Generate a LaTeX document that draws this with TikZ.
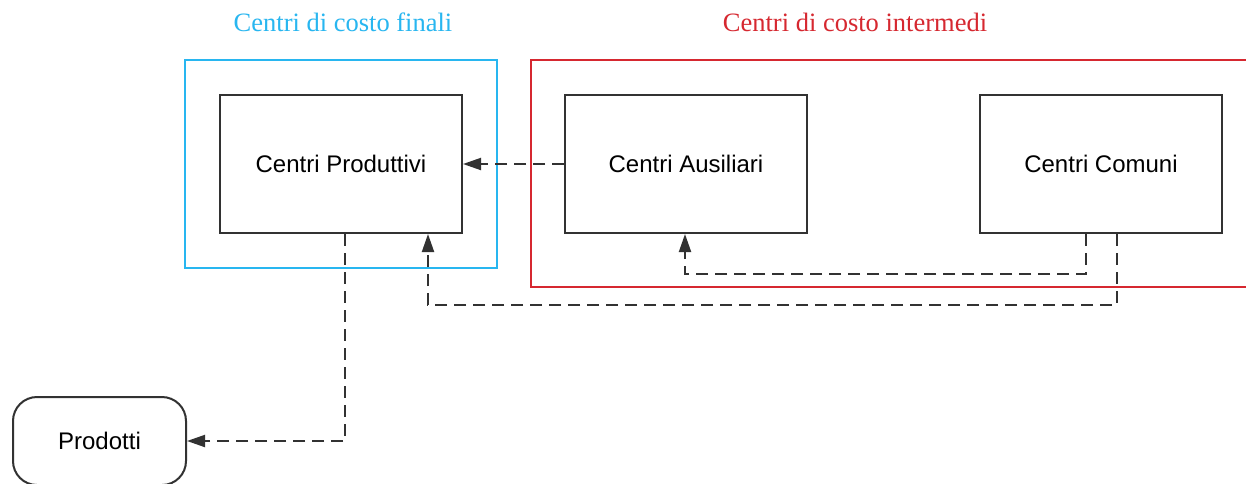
\documentclass[tikz,border=0pt]{standalone}
\usepackage{fontspec}
\setmainfont{Liberation Serif}
\setsansfont{Liberation Sans}
\usetikzlibrary{arrows.meta}
\definecolor{finalblue}{RGB}{40,182,240}
\definecolor{interred}{RGB}{214,40,48}
\definecolor{boxline}{RGB}{50,50,50}
\tikzset{
  centro/.style={draw=boxline, line width=2pt, fill=white, minimum width=242pt,
    minimum height=138pt, inner sep=0pt, font=\sffamily\fontsize{24}{28}\selectfont},
  uscita/.style={centro, rounded corners=24pt, minimum width=173pt, minimum height=88pt},
  gruppo/.style={line width=2pt},
  titolo/.style={font=\rmfamily\fontsize{26.5}{31}\selectfont, inner sep=0pt},
  conn/.style={draw=boxline, line width=2pt, dash pattern=on 12pt off 7pt,
    -{Triangle[length=18pt,width=12pt]}}
}
\begin{document}
\begin{tikzpicture}[x=1pt, y=-1pt]
  \useasboundingbox (0,0) rectangle (1246,483);
  \clip (0,0) rectangle (1246,483);
  \fill[white] (0,0) rectangle (1246,483);

  % group frames
  \draw[gruppo, draw=finalblue] (185,60) rectangle (497,268);
  \draw[gruppo, draw=interred] (531,60) rectangle (1270,287);
  \node[titolo, text=finalblue] (tfin) at (343,22) {Centri di costo finali};
  \node[titolo, text=interred] (tint) at (855,22) {Centri di costo intermedi};

  % cost centres
  \node[centro] (produttivi) at (341,164) {Centri Produttivi};
  \node[centro] (ausiliari) at (686,164) {Centri Ausiliari};
  \node[centro] (comuni) at (1101,164) {Centri Comuni};
  \node[uscita] (prodotti) at (99.5,441) {Prodotti};

  % cost flows
  \draw[conn] (ausiliari.west) -- (produttivi.east);
  \draw[conn] ([xshift=-15pt]comuni.south) -- ++(0,40) -| ([xshift=-1pt]ausiliari.south);
  \draw[conn] ([xshift=16pt]comuni.south) -- ++(0,71) -| ([xshift=87pt]produttivi.south);
  \draw[conn] ([xshift=4pt]produttivi.south) |- (prodotti.east);
\end{tikzpicture}
\end{document}
